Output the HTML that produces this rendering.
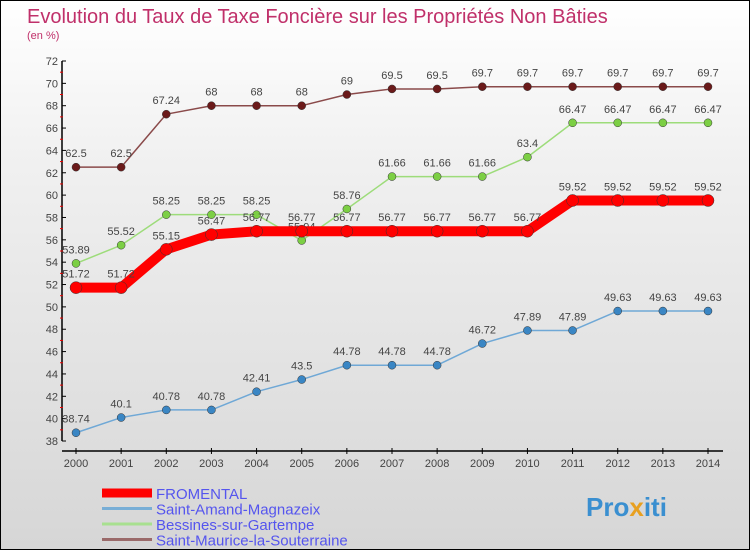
<!DOCTYPE html>
<html><head><meta charset="utf-8"><style>
body{margin:0}
#wrap{position:relative;width:748px;height:548px;border:1px solid #000;background:linear-gradient(#fff 0%,#f0f0f0 30%,#d6d6d6 100%);overflow:hidden;font-family:"Liberation Sans",sans-serif}
svg{position:absolute;left:0;top:0}
</style></head><body>
<div id="wrap">
<svg id="chart" width="750" height="550">
<text x="26" y="22" font-size="20" fill="#c0306a">Evolution du Taux de Taxe Foncière sur les Propriétés Non Bâties</text>
<text x="26" y="38" font-size="11" fill="#c0306a">(en %)</text>
<text x="585" y="515" font-size="26" font-weight="bold" fill="#3a8fd0">Pro<tspan fill="#e8a020">x</tspan>iti</text>
</svg>
</div>
<script>
const years=[2000,2001,2002,2003,2004,2005,2006,2007,2008,2009,2010,2011,2012,2013,2014];
const fromental=[51.72,51.72,55.15,56.47,56.77,56.77,56.77,56.77,56.77,56.77,56.77,59.52,59.52,59.52,59.52];
const saintAmand=[38.74,40.1,40.78,40.78,42.41,43.5,44.78,44.78,44.78,46.72,47.89,47.89,49.63,49.63,49.63];
const bessines=[53.89,55.52,58.25,58.25,58.25,55.94,58.76,61.66,61.66,61.66,63.4,66.47,66.47,66.47,66.47];
const saintMaurice=[62.5,62.5,67.24,68,68,68,69,69.5,69.5,69.7,69.7,69.7,69.7,69.7,69.7];
const yTicks=[38,40,42,44,46,48,50,52,54,56,58,60,62,64,66,68,70,72];
const seriesNames=["FROMENTAL","Saint-Amand-Magnazeix","Bessines-sur-Gartempe","Saint-Maurice-la-Souterraine"];

const svg=document.getElementById('chart');
const NS='http://www.w3.org/2000/svg';
const x=i=>75+i*(707-75)/(years.length-1);
const y=v=>440-(v-38)*(440-60)/(72-38);
function mk(t,a){const e=document.createElementNS(NS,t);for(const k in a)e.setAttribute(k,a[k]);svg.appendChild(e);return e;}

// axes
let ax=mk('line',{x1:61,y1:y(72),x2:61,y2:440,stroke:'#000','stroke-width':1.5});


let xa=mk('line',{x1:61,y1:450,x2:722,y2:450,stroke:'#000','stroke-width':1.5});


yTicks.forEach(t=>{
  mk('line',{x1:61,y1:y(t),x2:65,y2:y(t),stroke:'#000'});
  if(t<72)mk('line',{x1:59,y1:y(t+1),x2:62,y2:y(t+1),stroke:'#e00'});
  const tx=mk('text',{x:57,y:y(t)+4,'font-size':11,'text-anchor':'end',fill:'#444'});
  tx.textContent=t;
  
  
});
years.forEach((yr,i)=>{
  mk('line',{x1:x(i),y1:447,x2:x(i),y2:453,stroke:'#000'});
  const tx=mk('text',{x:x(i),y:466,'font-size':11,'text-anchor':'middle',fill:'#444'});
  tx.textContent=yr;
  
  
});

function series(data,color,lw,r,dot,name){
  const pts=data.map((v,i)=>x(i)+','+y(v)).join(' ');
  const pl=mk('polyline',{points:pts,fill:'none',stroke:color,'stroke-width':lw,'stroke-linejoin':'round'});
  
  
  data.forEach((v,i)=>{
    const c=mk('circle',{cx:x(i),cy:y(v),r:r,fill:dot,stroke:dot==='none'?'none':'#333','stroke-width':0.5});
    
    
    const t=mk('text',{x:x(i),y:y(v)-10,'font-size':11,'text-anchor':'middle',fill:'#444'});
    t.textContent=v;
    
    
  });
}
series(saintMaurice,'#8a4a4a',1.5,4,'#6b1a1a','saint-maurice');
series(bessines,'#9ddc7a',1.5,4,'#7ccf44','bessines');
series(saintAmand,'#6fa8d6',1.5,4,'#3a86c4','saint-amand');
series(fromental,'#ff0000',10,6,'#ff0000','fromental');

// legend
const lc=['#ff0000','#78aed6','#a8e090','#9a6a6a'];
const lw=[9,3,3,3];
seriesNames.forEach((n,i)=>{
  const yy=492+i*15.5;
  const l=mk('line',{x1:101,y1:yy,x2:151,y2:yy,stroke:lc[i],'stroke-width':lw[i]});
  
  
  const t=mk('text',{x:155,y:yy+6,'font-size':15,fill:'#5555ee'});
  t.textContent=n;
  
  
});
</script>
</body></html>
